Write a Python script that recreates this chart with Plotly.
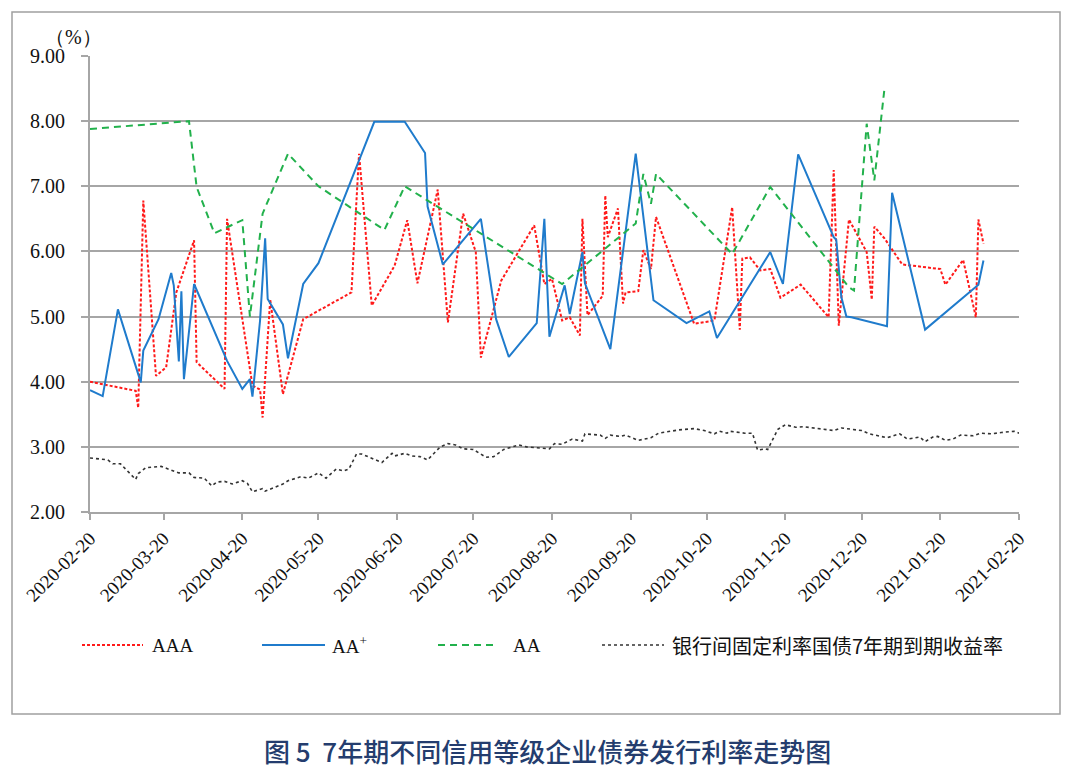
import plotly.graph_objects as go

# 7年期不同信用等级企业债券发行利率 (%)
aaa_dates = [
    "2020-02-20", "2020-03-09", "2020-03-10", "2020-03-12", "2020-03-17", "2020-03-21",
    "2020-03-25", "2020-04-01", "2020-04-02", "2020-04-13", "2020-04-14", "2020-04-24",
    "2020-04-27", "2020-04-28", "2020-05-01", "2020-05-06", "2020-05-14", "2020-06-02",
    "2020-06-05", "2020-06-10", "2020-06-19", "2020-06-24", "2020-06-28", "2020-07-06",
    "2020-07-10", "2020-07-16", "2020-07-21", "2020-07-23", "2020-07-31", "2020-08-13",
    "2020-08-17", "2020-08-20", "2020-08-24", "2020-08-27", "2020-08-31", "2020-09-01",
    "2020-09-03", "2020-09-09", "2020-09-10", "2020-09-11", "2020-09-15", "2020-09-17",
    "2020-09-18", "2020-09-23", "2020-09-25", "2020-09-28", "2020-09-30", "2020-10-15",
    "2020-10-23", "2020-10-30", "2020-11-02", "2020-11-03", "2020-11-06", "2020-11-10",
    "2020-11-14", "2020-11-18", "2020-11-26", "2020-12-07", "2020-12-09", "2020-12-11",
    "2020-12-15", "2020-12-22", "2020-12-24", "2020-12-25", "2020-12-29", "2021-01-05",
    "2021-01-20", "2021-01-22", "2021-01-29", "2021-02-03", "2021-02-04", "2021-02-06",
]
aaa_rates = [
    4.00, 3.86, 3.60, 6.78, 4.09, 4.22,
    5.37, 6.17, 4.30, 3.89, 6.50, 3.94,
    3.88, 3.45, 5.26, 3.81, 4.96, 5.37,
    7.50, 5.17, 5.78, 6.48, 5.51, 6.95,
    4.91, 6.58, 5.99, 4.37, 5.55, 6.40,
    5.50, 5.58, 4.94, 4.99, 4.71, 6.50,
    5.02, 5.32, 6.86, 6.22, 6.66, 5.20,
    5.37, 5.39, 6.02, 5.73, 6.53, 4.89,
    4.94, 6.68, 4.80, 5.89, 5.91, 5.71,
    5.73, 5.29, 5.49, 4.99, 7.25, 4.86,
    6.49, 5.99, 5.26, 6.38, 6.20, 5.80,
    5.73, 5.49, 5.87, 4.99, 6.49, 6.12,
]

aap_dates = [
    "2020-02-20", "2020-02-25", "2020-03-02", "2020-03-11", "2020-03-12", "2020-03-18",
    "2020-03-23", "2020-03-24", "2020-03-26", "2020-03-27", "2020-03-28", "2020-04-01",
    "2020-04-14", "2020-04-20", "2020-04-23", "2020-04-24", "2020-04-27", "2020-04-29",
    "2020-04-30", "2020-05-06", "2020-05-08", "2020-05-14", "2020-05-20", "2020-06-11",
    "2020-06-23", "2020-07-01", "2020-07-02", "2020-07-08", "2020-07-23", "2020-07-29",
    "2020-08-03", "2020-08-14", "2020-08-17", "2020-08-19", "2020-08-25", "2020-08-27",
    "2020-09-01", "2020-09-02", "2020-09-12", "2020-09-22", "2020-09-29", "2020-10-12",
    "2020-10-21", "2020-10-24", "2020-11-14", "2020-11-19", "2020-11-25", "2020-12-09",
    "2020-12-10", "2020-12-12", "2020-12-14", "2020-12-16", "2020-12-30", "2021-01-01",
    "2021-01-14", "2021-02-04", "2021-02-06",
]
aap_rates = [
    3.87, 3.78, 5.11, 3.99, 4.48, 4.96,
    5.67, 5.48, 4.31, 5.39, 4.04, 5.50,
    4.32, 3.89, 4.04, 3.77, 4.94, 6.20,
    5.27, 4.88, 4.36, 5.50, 5.82, 7.99,
    7.99, 7.51, 6.69, 5.80, 6.50, 4.96,
    4.38, 4.90, 6.50, 4.69, 5.48, 5.04,
    5.99, 5.51, 4.50, 7.50, 5.25, 4.90,
    5.08, 4.67, 5.99, 5.50, 7.49, 6.22,
    6.18, 5.30, 5.00, 4.99, 4.85, 6.90,
    4.80, 5.49, 5.86,
]

aa_dates = [
    "2020-02-20", "2020-03-30", "2020-04-02", "2020-04-09", "2020-04-20", "2020-04-23",
    "2020-04-28", "2020-05-08", "2020-05-20", "2020-06-15", "2020-06-23", "2020-08-24",
    "2020-09-22", "2020-09-25", "2020-09-28", "2020-09-30", "2020-10-30", "2020-11-14",
    "2020-12-15", "2020-12-17", "2020-12-22", "2020-12-25", "2020-12-29",
]
aa_rates = [
    7.88, 8.00, 6.99, 6.28, 6.48, 5.00,
    6.58, 7.50, 7.00, 6.33, 7.00, 5.50,
    6.43, 7.19, 6.73, 7.19, 5.96, 6.99,
    5.45, 5.40, 7.96, 7.09, 8.50,
]

# 银行间固定利率国债7年期到期收益率
gov_dates = [
    "2020-02-20", "2020-02-27", "2020-02-29", "2020-03-03", "2020-03-09", "2020-03-10",
    "2020-03-13", "2020-03-19", "2020-03-26", "2020-03-30", "2020-04-01", "2020-04-05",
    "2020-04-08", "2020-04-10", "2020-04-13", "2020-04-16", "2020-04-20", "2020-04-22",
    "2020-04-24", "2020-04-28", "2020-04-29", "2020-05-06", "2020-05-08", "2020-05-13",
    "2020-05-16", "2020-05-20", "2020-05-23", "2020-05-27", "2020-05-30", "2020-06-01",
    "2020-06-04", "2020-06-06", "2020-06-14", "2020-06-18", "2020-06-19", "2020-06-23",
    "2020-06-26", "2020-06-29", "2020-07-02", "2020-07-07", "2020-07-10", "2020-07-13",
    "2020-07-16", "2020-07-20", "2020-07-25", "2020-07-28", "2020-08-01", "2020-08-07",
    "2020-08-10", "2020-08-17", "2020-08-19", "2020-08-21", "2020-08-24", "2020-08-28",
    "2020-09-01", "2020-09-02", "2020-09-08", "2020-09-10", "2020-09-12", "2020-09-16",
    "2020-09-18", "2020-09-23", "2020-09-28", "2020-10-01", "2020-10-09", "2020-10-15",
    "2020-10-19", "2020-10-23", "2020-10-25", "2020-10-28", "2020-10-29", "2020-11-04",
    "2020-11-07", "2020-11-09", "2020-11-12", "2020-11-13", "2020-11-17", "2020-11-20",
    "2020-11-24", "2020-11-27", "2020-12-09", "2020-12-12", "2020-12-17", "2020-12-20",
    "2020-12-23", "2020-12-30", "2021-01-04", "2021-01-07", "2021-01-12", "2021-01-14",
    "2021-01-17", "2021-01-19", "2021-01-22", "2021-01-25", "2021-01-28", "2021-02-02",
    "2021-02-05", "2021-02-09", "2021-02-13", "2021-02-18", "2021-02-20",
]
gov_rates = [
    2.83, 2.80, 2.74, 2.74, 2.50, 2.59,
    2.68, 2.70, 2.60, 2.60, 2.53, 2.52,
    2.40, 2.46, 2.47, 2.43, 2.48, 2.44,
    2.31, 2.36, 2.32, 2.43, 2.48, 2.54,
    2.52, 2.60, 2.52, 2.66, 2.63, 2.66,
    2.89, 2.89, 2.76, 2.90, 2.86, 2.90,
    2.86, 2.85, 2.80, 3.00, 3.05, 3.03,
    2.97, 2.96, 2.84, 2.85, 2.96, 3.03,
    3.00, 2.97, 2.97, 3.05, 3.04, 3.12,
    3.09, 3.20, 3.18, 3.13, 3.18, 3.16,
    3.18, 3.10, 3.14, 3.21, 3.26, 3.28,
    3.25, 3.20, 3.24, 3.21, 3.24, 3.21,
    3.21, 2.95, 2.97, 2.96, 3.27, 3.34,
    3.30, 3.31, 3.25, 3.29, 3.26, 3.25,
    3.20, 3.14, 3.20, 3.12, 3.15, 3.08,
    3.15, 3.16, 3.10, 3.12, 3.18, 3.17,
    3.21, 3.20, 3.22, 3.24, 3.21,
]

x_ticks = [
    "2020-02-20", "2020-03-20", "2020-04-20", "2020-05-20", "2020-06-20", "2020-07-20",
    "2020-08-20", "2020-09-20", "2020-10-20", "2020-11-20", "2020-12-20", "2021-01-20",
    "2021-02-20",
]
y_ticks = [2, 3, 4, 5, 6, 7, 8, 9]

series_names = ["AAA", "AA<sup>+</sup>", "AA", "银行间固定利率国债7年期到期收益率"]
series_colors = ["#ff1a1a", "#1f7bcc", "#22b14c", "#333333"]
series_dash = ["3px,2px", "solid", "7px,5px", "dot"]
series_width = [2, 2, 2, 1.6]

SERIF = "Liberation Serif"
CJK = "Noto Sans CJK SC"
GRID = "#a6a6a6"

# plot area in pixels
L, R, T, B = 90, 1019, 56, 512
W, H = R - L, B - T


def px_x(p):
    return (p - L) / W


def px_y(p):
    return (B - p) / H


fig = go.Figure()
for xs, ys, i in [(aaa_dates, aaa_rates, 0), (aap_dates, aap_rates, 1),
                  (aa_dates, aa_rates, 2), (gov_dates, gov_rates, 3)]:
    fig.add_trace(go.Scatter(
        x=xs, y=ys, name=series_names[i], mode="lines",
        line=dict(color=series_colors[i], width=series_width[i], dash=series_dash[i]),
        showlegend=False,
    ))

# legend drawn by hand so the line samples are as long as in the original
legend_y = px_y(645)
legend_lines = [(82, 143, 150), (262, 325, 330), (438, 495, 511), (602, 664, 670)]
for i, (x0, x1, xt) in enumerate(legend_lines):
    fig.add_shape(type="line", xref="paper", yref="paper",
                  x0=px_x(x0), x1=px_x(x1), y0=legend_y, y1=legend_y,
                  line=dict(color=series_colors[i], width=series_width[i], dash=series_dash[i]))
    fig.add_annotation(text=series_names[i], xref="paper", yref="paper",
                       x=px_x(xt), y=legend_y, xanchor="left", yanchor="middle",
                       showarrow=False,
                       font=dict(family=CJK if i == 3 else SERIF,
                                 size=20 if i == 3 else 19, color="#111111"))

# outer frame
fig.add_shape(type="rect", xref="paper", yref="paper",
              x0=px_x(12), x1=px_x(1060), y0=px_y(714), y1=px_y(12),
              line=dict(color="#a0a0a0", width=1.5))

fig.add_annotation(text="（%）", xref="paper", yref="paper", x=px_x(73), y=px_y(37),
                   xanchor="center", yanchor="middle", showarrow=False,
                   font=dict(family=SERIF, size=20, color="#111111"))
fig.add_annotation(text="图 5\u00a0\u00a07年期不同信用等级企业债券发行利率走势图",
                   xref="paper", yref="paper", x=px_x(547), y=px_y(750),
                   xanchor="center", yanchor="middle", showarrow=False,
                   font=dict(family=CJK, size=26, color="#243d6e", weight=500))

fig.update_xaxes(
    type="date", range=["2020-02-20", "2021-02-20"],
    tickvals=x_ticks, ticktext=x_ticks, tickangle=-45,
    showgrid=False, showline=True, linecolor=GRID, linewidth=2,
    ticks="outside", ticklen=6, tickcolor=GRID, tickwidth=2,
    tickfont=dict(family=SERIF, size=19, color="#111111"),
    automargin=False,
)
fig.update_yaxes(
    range=[2, 9], tickvals=y_ticks, tickformat=".2f",
    showgrid=True, gridcolor=GRID, gridwidth=2,
    showline=True, linecolor=GRID, linewidth=2,
    ticks="outside", ticklen=7, tickcolor=GRID, tickwidth=2,
    ticklabelstandoff=12,
    tickfont=dict(family=SERIF, size=20, color="#111111"),
    zeroline=False, automargin=False,
)
fig.update_layout(
    width=1080, height=774,
    margin=dict(l=L, r=1080 - R, t=T, b=774 - B),
    paper_bgcolor="white", plot_bgcolor="white",
    showlegend=False,
)

# drop the browser's default 8px page margin so the figure fills the window
fig.write_html("out.html", config={"displayModeBar": False},
               post_script="document.body.style.margin='0';")
